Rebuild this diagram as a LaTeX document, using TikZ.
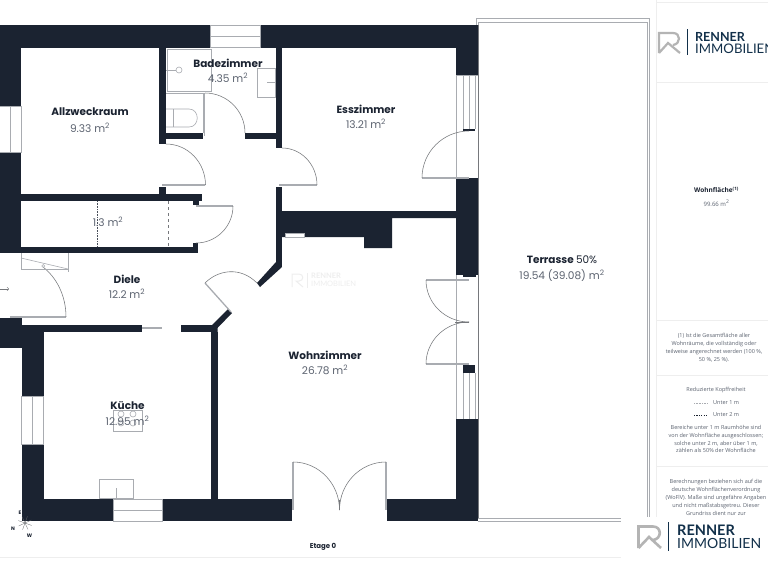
\documentclass[tikz,border=0pt]{standalone}
\usepackage{fontspec}
\setmainfont{Poppins}
\newfontfamily\panelfont{Open Sans}
\newfontfamily\logofont{Lato}
\definecolor{wallcol}{HTML}{1B2331}
\definecolor{areacol}{HTML}{5C6370}
\definecolor{fixcol}{HTML}{A9ACB1}
\definecolor{rulecol}{HTML}{EEEEEE}
\definecolor{logocol}{HTML}{12304A}
\definecolor{markcol}{HTML}{B4B4B4}
\tikzset{
  wall/.style={fill=wallcol,draw=none},
  fixture/.style={draw=fixcol,line width=0.6pt,fill=none},
  leaf/.style={draw=fixcol,line width=1.6pt},
  swing/.style={draw=fixcol!70!black,line width=0.55pt},
  roomname/.style={font=\fontsize{10.5}{12}\selectfont\bfseries,text=wallcol,inner sep=0},
  roomarea/.style={font=\fontsize{10.6}{12}\selectfont,text=areacol,inner sep=0},
  paneltext/.style={font=\panelfont\fontsize{5.5}{7.9}\selectfont,text=areacol,align=center,inner sep=0},
  divline/.style={draw=rulecol,line width=0.8pt}
}
\begin{document}
\begin{tikzpicture}[x=1pt,y=-1pt]
\clip (0,0) rectangle (768,560);
\fill[white] (0,0) rectangle (768,560);

% Terrace
\draw[fixture,line width=1pt] (476,25) -- (476,18.5) -- (649,18.5) -- (649,521);
\draw[fixture] (478,25) -- (478,22) -- (647,22) -- (647,518) -- (478,518);
\draw[fixture] (478,521) -- (649,521);
\draw[fixture,draw=fixcol!70!black] (478,25) -- (478,518);

% Walls
\fill[wall] (0,25) rectangle (210,48);
\fill[wall] (260,25) rectangle (478,48);
\fill[wall] (0,48) rectangle (21,106);
\fill[wall] (0,152) rectangle (21,253);
\fill[wall] (0,247) rectangle (198,253);
\fill[wall] (21,194) rectangle (202,201);
\fill[wall] (193,201) rectangle (199,205);
\fill[wall] (193,243) rectangle (198,253);
\fill[wall] (159,48) rectangle (166,144);
\fill[wall] (159,187) rectangle (166,194);
\fill[wall] (166,133) rectangle (203,139);
\fill[wall] (245,133) rectangle (282,139);
\fill[wall] (276,48) rectangle (282,148);
\fill[wall] (276,187) rectangle (282,267);
\fill[wall] (282,211) -- (456,211) -- (456,218) -- (392,218) -- (392,248) -- (364,248)
  -- (364,237) -- (304,237) -- (304,233) -- (285,233) -- (285,237) -- (282,237) -- cycle;
\fill[wall] (276,262) -- (282,267) -- (260,287) -- (257,283) -- cycle;
\fill[wall] (456,48) rectangle (478,75);
\fill[wall] (463,129) rectangle (475,131);
\fill[wall] (456,178) rectangle (478,275);
\fill[wall] (463,275) rectangle (476,277);
\fill[wall] (463,365) rectangle (475,373);
\fill[wall] (456,419) rectangle (478,521);
\fill[wall] (387,499) rectangle (456,521);
\fill[wall] (162,499) rectangle (292,521);
\fill[wall] (21.5,499) rectangle (113,521);
\fill[wall] (21.5,332) rectangle (44,396);
\fill[wall] (21.5,444) rectangle (44,499);
\fill[wall] (0,318) rectangle (21.5,348);
\fill[wall] (21.5,325) rectangle (142,332);
\fill[wall] (181,325) rectangle (217,332);
\fill[wall] (211,332) rectangle (217.5,499);
\fill[wall] (211,326) -- (228,309) -- (232,313) -- (217.5,328) -- (217.5,332) -- (211,332) -- cycle;

% Windows
\draw[fixture] (210,25) rectangle (260,47);
\draw[fixture] (210,36) -- (260,36);
\draw[fixture] (0,106) -- (21,106) -- (21,152) -- (0,152) (10,106) -- (10,152);
\draw[fixture] (21.5,396) rectangle (43.5,444);
\draw[fixture] (32.5,396) -- (32.5,444);
\draw[fixture] (113,499) rectangle (162,521);
\draw[fixture] (113,510) -- (162,510);
\draw[fixture] (456,75) -- (456,178) (456,275) -- (456,419) (456,75) -- (478,75);
\foreach \winx in {463,469,475}{
  \draw[fixture] (\winx,75) -- (\winx,129);
  \draw[fixture] (\winx,373) -- (\winx,419);
}
\draw[fixture] (285,233) rectangle (304,237);
\draw[leaf,line width=1.2pt] (142,328) -- (162,328);

% Shower, toilet, sink
\draw[fixture,line width=1pt] (167,49) rectangle (211,91);
\draw[fixture] (166,70) -- (176,70);
\draw[fixture] (179,70) circle (3);
\draw[fixture] (166,93) -- (203,93) -- (203,133);
\draw[fixture] (166,109) -- (189,109) .. controls (200,109) and (200,127) .. (189,127) -- (166,127);
\draw[fixture] (173,109) -- (173,127);
\draw[fixture,line width=1pt] (257,68) rectangle (275,97);
\draw[fixture] (267,82) -- (275,82);

% Kitchen
\draw[fixture] (113,410) rectangle (142,431);
\foreach \hobx/\hoby in {121/414,133/414,121/423,133/423}
  \draw[fixture] (\hobx,\hoby) circle (3);
\draw[fixture,line width=1pt] (99.5,479) rectangle (133,498.5);
\draw[fixture] (116,488) -- (116,498);

% Doors
\draw[leaf] (204.5,93) -- (204.5,136);
\draw[swing] (205,93) arc (-90:0:40);
\draw[leaf] (162,185) -- (205,185);
\draw[swing] (166,144) arc (-90:0:39.5 and 41);
\draw[leaf] (279,185) -- (317,185);
\draw[swing] (282,148) arc (-90:0:35 and 37);
\draw[leaf] (196,206) -- (233,206);
\draw[swing] (233,206) arc (0:90:37);
\draw[leaf] (422,178) -- (469,178);
\draw[swing] (422,178) arc (180:270:47);
\draw[leaf] (426,280) -- (469,280);
\draw[swing] (426,280) arc (180:90:43 and 42);
\draw[leaf] (426,364) -- (469,364);
\draw[swing] (426,364) arc (180:270:43 and 42);
\draw[swing] (455,322) -- (469,322);
\draw[leaf] (293,462) -- (293,510);
\draw[swing] (293,462) arc (-90:0:46.5 and 48);
\draw[leaf] (386,462) -- (386,510);
\draw[swing] (386,462) arc (-90:-180:46.5 and 48);
\draw[swing] (339.5,500) -- (339.5,510);
\draw[leaf,line width=1.3pt] (231,312) -- (205,283);
\draw[swing] (205,283) .. controls (218,270) and (240,266) .. (257,283);
\draw[leaf] (10,317) -- (66,317);
\draw[swing] (43,267) .. controls (56,277) and (66,295) .. (66,317);
\draw[fixture] (21,253) -- (21,269) -- (68,269) (68.5,253) -- (68.5,272);
\draw[fixture] (21,258) -- (68,269);
\draw[fixture] (43.3,266) circle (1.5);
\draw[swing,->,>={to}] (0,289) -- (9,289);

% Storage lines
\draw[fixture,draw=wallcol!80,densely dotted] (97,201) -- (97,247);
\draw[fixture,draw=fixcol!70!black,dashed,line width=0.8pt] (168,201) -- (168,247);

% Rooms
\node[roomname] (allzweck) at (90,112) {Allzweckraum};
\node[roomarea] (allzweckarea) at (90,127.5) {9.33 m\textsuperscript{2}};
\node[roomname] (bad) at (228,63) {Badezimmer};
\node[roomarea] (badarea) at (228,78) {4.35 m\textsuperscript{2}};
\node[roomarea] (storagearea) at (108,222) {1.3 m\textsuperscript{2}};
\node[roomname] (diele) at (127,279) {Diele};
\node[roomarea] (dielearea) at (127,294) {12.2 m\textsuperscript{2}};
\node[roomname] (kueche) at (127.5,406) {Küche};
\node[roomarea] (kuechearea) at (127.5,421) {12.95 m\textsuperscript{2}};
\node[roomname] (ess) at (366,109) {Esszimmer};
\node[roomarea] (essarea) at (366,124) {13.21 m\textsuperscript{2}};
\node[roomname] (wohn) at (325,355) {Wohnzimmer};
\node[roomarea] (wohnarea) at (325,370) {26.78 m\textsuperscript{2}};
\node[roomname] (terrasse) at (562,260) {Terrasse \mdseries 50\%};
\node[roomarea] (terrassearea) at (562,276) {19.54 (39.08) m\textsuperscript{2}};
\node[roomname,font=\fontsize{7}{8}\selectfont\bfseries] (etage) at (323,547) {Etage 0};

% Watermark
\draw[rulecol,line width=1pt] (292,287) -- (292,274) -- (299,274) .. controls (304,274) and (304,281) .. (299,281) -- (296,281) -- (303,287);
\draw[rulecol,line width=0.5pt] (307.5,273) -- (307.5,288);
\node[anchor=west,inner sep=0,text=rulecol,font=\logofont\fontsize{7.5}{8}\selectfont\bfseries] (markrenner) at (311,276) {RENNER};
\node[anchor=west,inner sep=0,text=rulecol,font=\logofont\fontsize{7.5}{8}\selectfont] (markimmo) at (311,284) {IMMOBILIEN};

% Compass
\foreach \ang in {20,65,110,155,200,245,290,335}
  \draw[fixcol!60!black,line width=0.3pt] (25,523) -- ++(\ang:7);
\foreach \cname/\cx/\cy/\ctext in {cn/13/529/N,ce/20/513/E,cs/37/519/S,cw/29.5/536/W}
  \node[inner sep=0,text=wallcol,font=\fontsize{5}{6}\selectfont\bfseries] (\cname) at (\cx,\cy) {\ctext};

% Side panel
\draw[divline] (656,0) -- (656,517);
\draw[divline] (656,2) -- (768,2);
\draw[divline] (656,82) -- (768,82);
\draw[divline] (656,320) -- (768,320);
\draw[divline] (656,375) -- (768,375);
\draw[divline] (656,466) -- (768,466);
\draw[divline] (0,557) -- (621,557);
\node[inner sep=0,text=wallcol,font=\panelfont\fontsize{6.5}{7}\selectfont\bfseries] (flaeche) at (716.5,190) {Wohnfläche\textsuperscript{(1)}};
\node[paneltext,font=\panelfont\fontsize{6}{7}\selectfont] (flaechewert) at (716.5,203) {99.66 m\textsuperscript{2}};
\node[paneltext] (note) at (714,348) {(1) Ist die Gesamtfläche aller\\Wohnräume, die vollständig oder\\teilweise angerechnet werden (100 \%,\\50 \%, 25 \%).};
\node[paneltext] (kopf) at (716,390) {Reduzierte Kopffreiheit};
\draw[fixture,densely dotted] (694,403) -- (708,403);
\node[paneltext,anchor=west] (unter1) at (713,403) {Unter 1 m};
\draw[draw=wallcol,line width=0.5pt,dash pattern=on 1.2pt off 1.2pt] (694,415) -- (708,415);
\node[paneltext,anchor=west] (unter2) at (713,415) {Unter 2 m};
\node[paneltext] (bereiche) at (716,439) {Bereiche unter 1 m Raumhöhe sind\\von der Wohnfläche ausgeschlossen;\\solche unter 2 m, aber über 1 m,\\zählen als 50\% der Wohnfläche};
\node[paneltext] (berechnung) at (716,497.5) {Berechnungen beziehen sich auf die\\deutsche Wohnflächenverordnung\\(WoFlV). Maße sind ungefähre Angaben\\und nicht maßstabsgetreu. Dieser\\Grundriss dient nur zur};

% Logos
\fill[white] (621,517) rectangle (768,560);
\draw[markcol,line width=2.2pt,line join=miter] (659,53) -- (659,33) -- (673,33) .. controls (681,33) and (681,44) .. (673,45) (659,53) -- (668,43) -- (680,53);
\draw[logocol,line width=0.7pt] (687.7,29) -- (687.7,55);
\node[anchor=west,inner sep=0,text=logocol,font=\logofont\fontsize{12.5}{13}\selectfont\bfseries] (toprenner) at (695,36.5) {RENNER};
\node[anchor=west,inner sep=0,text=logocol,font=\logofont\fontsize{13.2}{14}\selectfont] (topimmo) at (695,48.5) {IMMOBILIEN};
\draw[markcol,line width=2.6pt,line join=miter] (638.5,548) -- (638.5,526.5) -- (653,526.5) .. controls (662,526.5) and (662,539) .. (653,540) (638.5,548) -- (649,537) -- (661,548);
\draw[logocol,line width=0.8pt] (668,522) -- (668,551);
\node[anchor=west,inner sep=0,text=logocol,font=\logofont\fontsize{14.5}{15}\selectfont\bfseries] (botrenner) at (677,530) {RENNER};
\node[anchor=west,inner sep=0,text=logocol,font=\logofont\fontsize{14}{15}\selectfont] (botimmo) at (677,543) {IMMOBILIEN};

\end{tikzpicture}
\end{document}
